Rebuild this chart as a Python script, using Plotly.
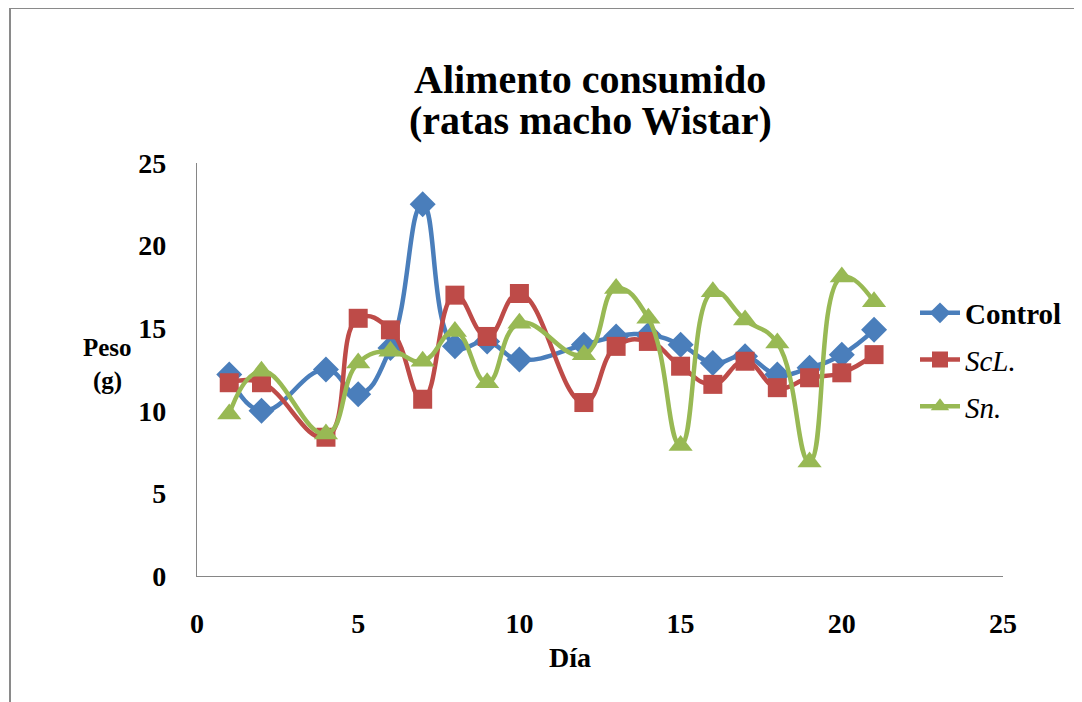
import plotly.graph_objects as go

days = [1, 2, 4, 5, 6, 7, 8, 9, 10, 12, 13, 14, 15, 16, 17, 18, 19, 20, 21]
control = [12.2, 10.0, 12.5, 11.0, 13.8, 22.5, 13.9, 14.2, 13.1, 14.0, 14.5, 14.6, 14.0, 12.9, 13.3, 12.2, 12.6, 13.4, 14.9]
scl = [11.7, 11.7, 8.4, 15.6, 14.9, 10.7, 17.0, 14.5, 17.1, 10.5, 13.9, 14.2, 12.7, 11.6, 13.0, 11.4, 12.0, 12.3, 13.4]
sn = [9.8, 12.4, 8.6, 12.9, 13.6, 13.0, 14.8, 11.7, 15.3, 13.4, 17.4, 15.6, 7.9, 17.2, 15.5, 14.1, 6.9, 18.1, 16.6]

series_names = ["<b>Control</b>", "<i>ScL.</i>", "<i>Sn.</i>"]
colors = ["#4A7EBB", "#BE4B48", "#98B954"]
symbols = ["diamond", "square", "triangle-up"]
sizes = [20, 19, 21]

FONT = "Liberation Serif"

fig = go.Figure()
for i, (name, vals, col, sym, sz) in enumerate(zip(series_names, [control, scl, sn], colors, symbols, sizes)):
    fig.add_trace(go.Scatter(
        x=days, y=vals, name=name, mode="lines+markers", legendgroup=f"g{i}",
        line=dict(color=col, width=4.5, shape="spline", smoothing=1.3),
        marker=dict(symbol=sym, size=sz, color=col),
    ))

OFF = 8  # page offset of the figure
W, H = 1082, 702
L, R, T, B = 189, 87, 155, 134
pw, ph = W - L - R, H - T - B

def px(x):
    return (x - OFF - L) / pw

def py(y):
    return (H - B - (y - OFF)) / ph

fig.update_layout(
    width=W, height=H,
    margin=dict(l=L, r=R, t=T, b=B, autoexpand=False),
    paper_bgcolor="white", plot_bgcolor="white",
    font=dict(family=FONT, color="black"),
    showlegend=True,
    legend=dict(
        x=px(915), y=py(360), xanchor="left", yanchor="middle",
        font=dict(family=FONT, size=29, color="black"),
        bgcolor="rgba(0,0,0,0)", tracegroupgap=6, itemwidth=40,
    ),
    xaxis=dict(
        range=[0, 25], dtick=5, tick0=0, showgrid=False, zeroline=False,
        showline=True, linecolor="#868686", linewidth=1.3,
        ticks="", ticklabelstandoff=22,
        tickfont=dict(family=FONT, size=28, color="black", weight="bold"),
    ),
    yaxis=dict(
        range=[0, 25], dtick=5, tick0=0, showgrid=False, zeroline=False,
        showline=True, linecolor="#868686", linewidth=1.3,
        ticks="", ticklabelstandoff=24,
        tickfont=dict(family=FONT, size=28, color="black", weight="bold"),
    ),
    annotations=[
        dict(text="<b>Alimento consumido</b>", x=px(590), y=py(79), xref="paper", yref="paper",
             showarrow=False, xanchor="center", yanchor="middle",
             font=dict(family=FONT, size=40, color="black")),
        dict(text="<b>(ratas macho Wistar)</b>", x=px(590), y=py(120), xref="paper", yref="paper",
             showarrow=False, xanchor="center", yanchor="middle",
             font=dict(family=FONT, size=40, color="black")),
        dict(text="<b>Peso</b>", x=px(107), y=py(347), xref="paper", yref="paper",
             showarrow=False, xanchor="center", yanchor="middle",
             font=dict(family=FONT, size=25, color="black")),
        dict(text="<b>(g)</b>", x=px(107), y=py(381), xref="paper", yref="paper",
             showarrow=False, xanchor="center", yanchor="middle",
             font=dict(family=FONT, size=25, color="black")),
        dict(text="<b>Día</b>", x=px(570), y=py(657), xref="paper", yref="paper",
             showarrow=False, xanchor="center", yanchor="middle",
             font=dict(family=FONT, size=28, color="black")),
    ],
    shapes=[
        dict(type="line", xref="paper", yref="paper", x0=px(10), x1=px(10), y0=py(8), y1=py(702),
             line=dict(color="#8a8a8a", width=2)),
        dict(type="line", xref="paper", yref="paper", x0=px(10), x1=px(1082), y0=py(8), y1=py(8),
             line=dict(color="#8a8a8a", width=2)),
    ],
)

fig.write_html("out.html")
